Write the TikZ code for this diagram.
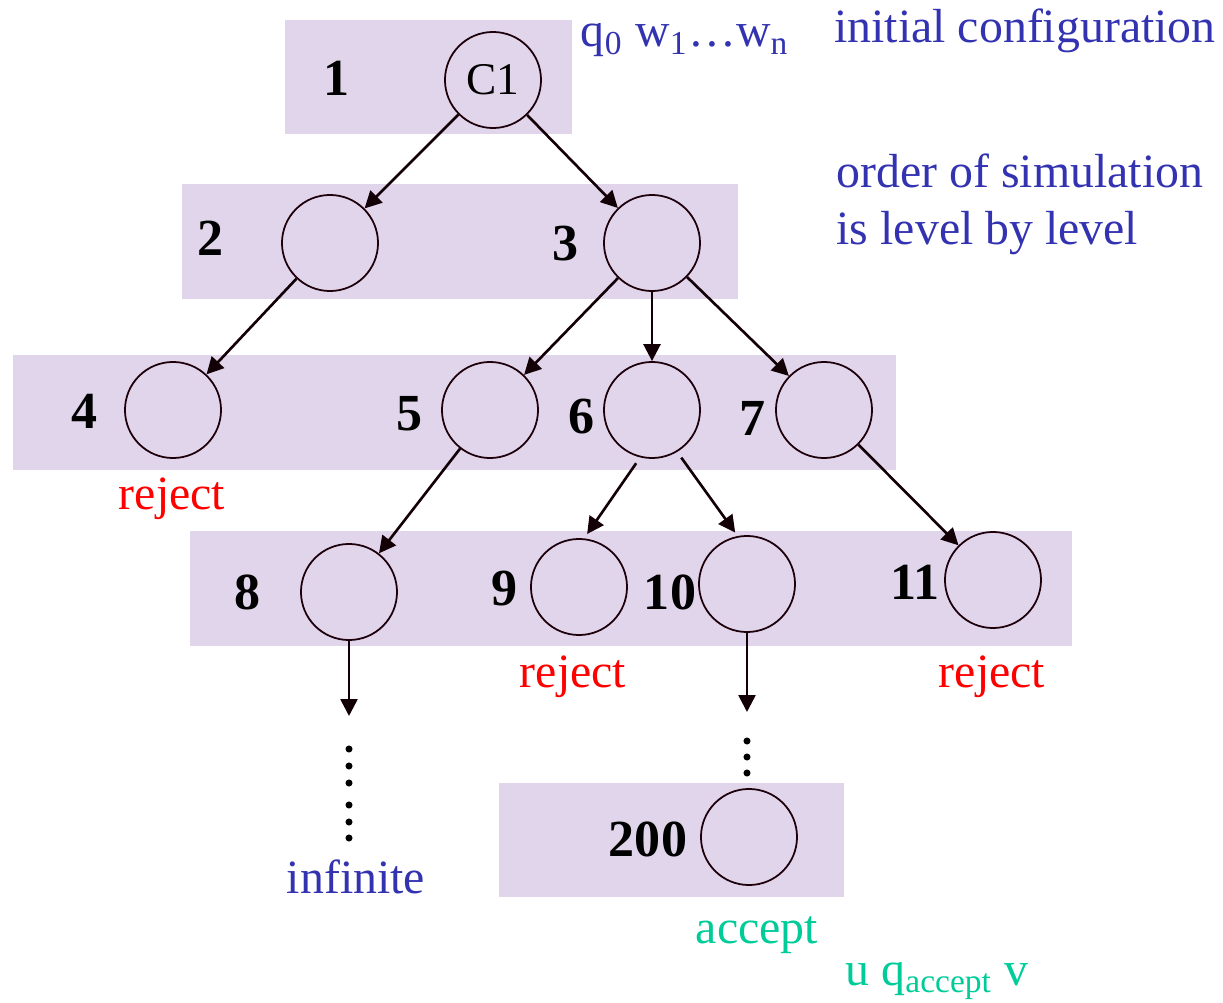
\documentclass[tikz,border=0pt]{standalone}
\usepackage{fontspec}
\setmainfont{Liberation Serif}
\usepackage{xcolor}
\usetikzlibrary{arrows.meta, positioning}

\definecolor{bandfill}{RGB}{225,213,235}
\definecolor{noteblue}{RGB}{51,51,178}
\definecolor{acceptgreen}{RGB}{0,204,153}

\begin{document}
\begin{tikzpicture}[
    x=0.01cm, y=-0.01cm,
    config/.style={draw=black!85!purple, line width=0.5pt, circle, minimum size=0.96cm,
        inner sep=0pt, font=\fontsize{12.9pt}{14pt}\selectfont},
    stepnum/.style={anchor=base, inner sep=0pt, font=\fontsize{14.8pt}{16pt}\selectfont\bfseries},
    note/.style={anchor=base, inner sep=0pt, font=\fontsize{13.6pt}{16pt}\selectfont, text=noteblue},
    result/.style={note, text=red},
    band/.style={fill=bandfill},
    edge/.style={->, line width=0.75pt, draw=black!90!purple},
    >={Triangle[length=4.8pt,width=4.8pt]}
]
\useasboundingbox (0,0) rectangle (1223,1003);

% --- Level bands ---
\fill[band] (285,20) rectangle (572,134);
\fill[band] (182,184) rectangle (738,299);
\fill[band] (13,355) rectangle (896,470);
\fill[band] (190,531) rectangle (1072,646);
\fill[band] (499,783) rectangle (844,897);

% --- Level 1 ---
\node[config] (c1) at (493,80) {C1};
\node[stepnum] (l1) at (337,95) {1};

% --- Level 2 ---
\node[config] (c2) at (330,243) {};
\node[config] (c3) at (652,243) {};
\node[stepnum] (l2) at (211,255) {2};
\node[stepnum] (l3) at (566,261) {3};

% --- Level 3 ---
\node[config] (c4) at (173,410) {};
\node[config] (c5) at (490,410) {};
\node[config] (c6) at (652,410) {};
\node[config] (c7) at (824,410) {};
\node[stepnum] (l4) at (85,428) {4};
\node[stepnum] (l5) at (410,430) {5};
\node[stepnum] (l6) at (582,433) {6};
\node[stepnum] (l7) at (753,435) {7};

% --- Level 4 ---
\node[config] (c8) at (349,592) {};
\node[config] (c9) at (579,587) {};
\node[config] (c10) at (747,584) {};
\node[config] (c11) at (993,580) {};
\node[stepnum] (l8) at (248,610) {8};
\node[stepnum] (l9) at (505,605) {9};
\node[stepnum] (l10) at (670,610) {10};
\node[stepnum] (l11) at (915,600) {11};

% --- Accepting configuration ---
\node[config] (c200) at (749,837) {};
\node[stepnum] (l200) at (648,856) {200};

% --- Tree edges ---
\draw[edge] (c1) -- (c2);
\draw[edge] (c1) -- (c3);
\draw[edge] (c2) -- (c4);
\draw[edge] (c3) -- (c5);
\draw[edge] (c3) -- (c6);
\draw[edge] (c3) -- (c7);
\draw[edge] (c5) -- (c8);
\draw[edge, shorten <=2pt, shorten >=1.5pt] (c6.-104) -- (c9.84);
\draw[edge, shorten <=2pt, shorten >=1.2pt] (c6.-59) -- (c10.101);
\draw[edge] (c7) -- (c11);

% --- Continuations ---
\coordinate (e8) at (349,716);
\coordinate (e10) at (747,712);
\draw[edge] (c8) -- (e8);
\draw[edge] (c10) -- (e10);
\foreach \y in {749,766,783,805,822,838}
    \fill (349,\y) circle[radius=1pt];
\foreach \y in {741,757,773}
    \fill (747,\y) circle[radius=1pt];

% --- Annotations ---
\node[note] (start) at (685,47) {q\textsubscript{0} w\textsubscript{1}…w\textsubscript{n}};
\node[note] (initcfg) at (1025,42) {initial configuration};
\node[note, anchor=base west] (order1) at (836,188) {order of simulation};
\node[note, anchor=base west] (order2) at (836,245) {is level by level};
\node[result] (rej4) at (172,509) {reject};
\node[result] (rej9) at (573,687) {reject};
\node[result] (rej11) at (992,687) {reject};
\node[note] (inf) at (356,893) {infinite};
\node[note, text=acceptgreen] (acc) at (757,943) {accept};
\node[note, text=acceptgreen, anchor=base west] (accfg) at (845,985) {u q\textsubscript{accept} v};

\end{tikzpicture}
\end{document}
